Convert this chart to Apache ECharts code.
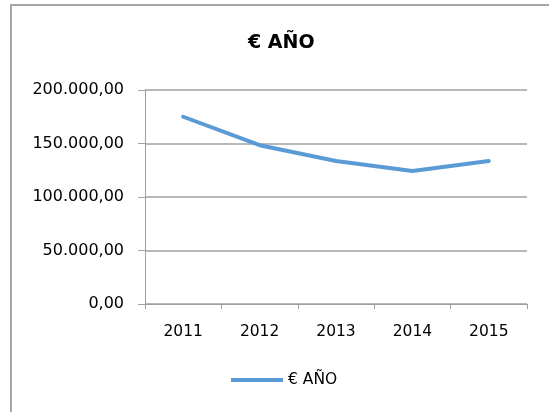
<!DOCTYPE html>
<html>
<head>
<meta charset="utf-8">
<script src="https://cdn.jsdelivr.net/npm/echarts@6/dist/echarts.min.js"></script>
<style>html,body{margin:0;padding:0;background:#fff;overflow:hidden;}#c{width:549px;height:412px;}</style>
</head>
<body>
<div id="c"></div>
<script>
var categories = ['2011', '2012', '2013', '2014', '2015'];
var seriesName = '€ AÑO';
var values = [175000, 148400, 133700, 124300, 133700];
var yTicks = [0, 50000, 100000, 150000, 200000];

function fmt(v) {
  var s = Math.round(v).toString();
  var out = '';
  while (s.length > 3) { out = '.' + s.slice(-3) + out; s = s.slice(0, -3); }
  return s + out + ',00';
}

var chart = echarts.init(document.getElementById('c'), null, {renderer: 'canvas'});
var font = 'DejaVu Sans';
chart.setOption({
  animation: false,
  backgroundColor: '#fff',
  textStyle: {fontFamily: font},
  title: {
    text: seriesName,
    left: 248, top: 34, padding: 0,
    textStyle: {fontFamily: font, fontWeight: 'bold', fontSize: 19, color: '#000'}
  },
  graphic: [
    {type: 'line', silent: true, shape: {x1: 10, y1: 5, x2: 549, y2: 5}, style: {stroke: '#A6A6A6', lineWidth: 2}},
    {type: 'line', silent: true, shape: {x1: 11, y1: 4, x2: 11, y2: 412}, style: {stroke: '#A6A6A6', lineWidth: 2}}
  ],
  legend: {
    data: [seriesName],
    left: 231, top: 372, padding: 0,
    icon: 'rect',
    itemWidth: 52, itemHeight: 4, itemGap: 10,
    textStyle: {fontFamily: font, fontSize: 15.5, color: '#000', padding: [0, 0, 0, 0]}
  },
  grid: {left: 145, top: 90, right: 22, bottom: 108},
  xAxis: {
    type: 'category',
    data: categories,
    boundaryGap: true,
    axisLine: {lineStyle: {color: '#A0A0A0', width: 1}},
    axisTick: {show: true, length: 5, alignWithLabel: false, lineStyle: {color: '#A0A0A0'}},
    axisLabel: {fontFamily: font, fontSize: 15.5, color: '#000', margin: 20}
  },
  yAxis: {
    type: 'value',
    min: yTicks[0], max: yTicks[yTicks.length - 1], interval: 50000,
    axisLine: {show: true, lineStyle: {color: '#A0A0A0', width: 1}},
    axisTick: {show: true, length: 7, inside: false, lineStyle: {color: '#A0A0A0'}},
    splitLine: {show: true, lineStyle: {color: '#A0A0A0', width: 1.5}},
    axisLabel: {fontFamily: font, fontSize: 16, color: '#000', margin: 21, formatter: fmt}
  },
  series: [{
    name: seriesName,
    type: 'line',
    data: values,
    symbol: 'none',
    showSymbol: false,
    lineStyle: {color: '#5B9BD5', width: 4, cap: 'round', join: 'round'},
    itemStyle: {color: '#5B9BD5'}
  }]
});
</script>
</body>
</html>
